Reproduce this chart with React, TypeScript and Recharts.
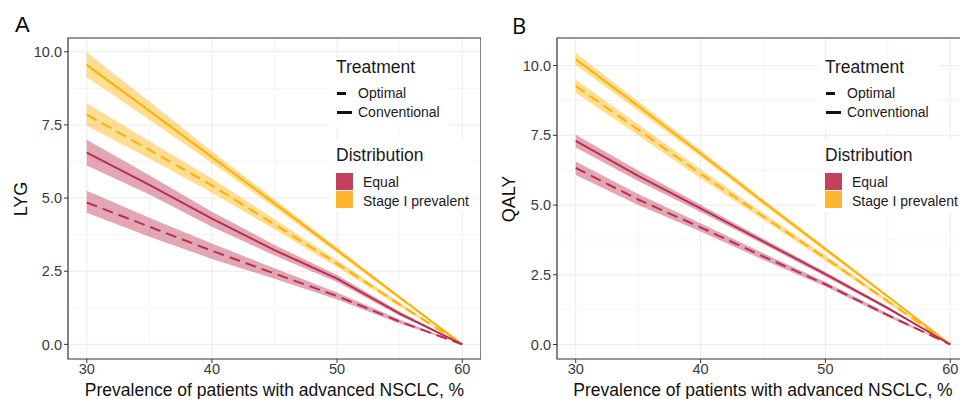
import React from 'react';
import { ComposedChart, Line, Area, XAxis, YAxis, CartesianGrid, ReferenceArea } from 'recharts';

// prevalence of advanced NSCLC, %
const prevalence = [30, 35, 40, 45, 50, 55, 60];
const xTicks = [30, 40, 50, 60];
const yTicks = [0, 2.5, 5, 7.5, 10];

// Panel A: LYG
const lygStageConv = [9.55, 7.98, 6.4, 4.82, 3.22, 1.6, 0];
const lygStageConvLo = [9.13, 7.68, 6.2, 4.68, 3.12, 1.54, 0];
const lygStageConvHi = [9.98, 8.3, 6.6, 4.96, 3.32, 1.66, 0];
const lygStageOpt = [7.85, 6.65, 5.43, 4.1, 2.76, 1.36, 0];
const lygStageOptLo = [7.47, 6.35, 5.18, 3.93, 2.64, 1.29, 0];
const lygStageOptHi = [8.24, 6.95, 5.67, 4.28, 2.88, 1.43, 0];
const lygEqualConv = [6.55, 5.45, 4.3, 3.22, 2.25, 1.05, 0];
const lygEqualConvLo = [6.11, 5.12, 4.02, 3.04, 2.13, 0.98, 0];
const lygEqualConvHi = [6.99, 5.78, 4.53, 3.4, 2.37, 1.12, 0];
const lygEqualOpt = [4.85, 4.02, 3.2, 2.42, 1.65, 0.78, 0];
const lygEqualOptLo = [4.5, 3.68, 2.92, 2.24, 1.53, 0.71, 0];
const lygEqualOptHi = [5.25, 4.33, 3.45, 2.6, 1.77, 0.85, 0];

// Panel B: QALY
const qalyStageConv = [10.23, 8.55, 6.85, 5.12, 3.42, 1.72, 0];
const qalyStageConvLo = [10.02, 8.38, 6.73, 5.02, 3.34, 1.67, 0];
const qalyStageConvHi = [10.45, 8.72, 6.97, 5.22, 3.5, 1.77, 0];
const qalyStageOpt = [9.27, 7.7, 6.12, 4.6, 3.1, 1.55, 0];
const qalyStageOptLo = [9.03, 7.5, 5.95, 4.48, 3.0, 1.49, 0];
const qalyStageOptHi = [9.5, 7.9, 6.29, 4.72, 3.2, 1.61, 0];
const qalyEqualConv = [7.3, 6.05, 4.88, 3.7, 2.52, 1.3, 0];
const qalyEqualConvLo = [7.06, 5.86, 4.75, 3.6, 2.44, 1.25, 0];
const qalyEqualConvHi = [7.52, 6.24, 5.01, 3.8, 2.6, 1.35, 0];
const qalyEqualOpt = [6.33, 5.2, 4.2, 3.16, 2.16, 1.05, 0];
const qalyEqualOptLo = [6.08, 5.0, 4.05, 3.04, 2.08, 0.99, 0];
const qalyEqualOptHi = [6.56, 5.4, 4.35, 3.28, 2.24, 1.11, 0];

const RED = '#B8304F';
const RED_FILL = '#C0395A';
const YELLOW = '#FFB000';
const FONT = '"Liberation Sans", Arial, sans-serif';

type Series = { mid: number[]; lo: number[]; hi: number[] };

const buildRows = (sc: Series, so: Series, ec: Series, eo: Series) =>
  prevalence.map((x, i) => ({
    x,
    sc: sc.mid[i],
    so: so.mid[i],
    ec: ec.mid[i],
    eo: eo.mid[i],
    scBand: [sc.lo[i], sc.hi[i]],
    soBand: [so.lo[i], so.hi[i]],
    ecBand: [ec.lo[i], ec.hi[i]],
    eoBand: [eo.lo[i], eo.hi[i]],
  }));

const dataA = buildRows(
  { mid: lygStageConv, lo: lygStageConvLo, hi: lygStageConvHi },
  { mid: lygStageOpt, lo: lygStageOptLo, hi: lygStageOptHi },
  { mid: lygEqualConv, lo: lygEqualConvLo, hi: lygEqualConvHi },
  { mid: lygEqualOpt, lo: lygEqualOptLo, hi: lygEqualOptHi }
);

const dataB = buildRows(
  { mid: qalyStageConv, lo: qalyStageConvLo, hi: qalyStageConvHi },
  { mid: qalyStageOpt, lo: qalyStageOptLo, hi: qalyStageOptHi },
  { mid: qalyEqualConv, lo: qalyEqualConvLo, hi: qalyEqualConvHi },
  { mid: qalyEqualOpt, lo: qalyEqualOptLo, hi: qalyEqualOptHi }
);

const abs = (s: React.CSSProperties): React.CSSProperties => ({ position: 'absolute', ...s });

const LegendBlock: React.FC<{ dx: number }> = ({ dx }) => {
  const txt = (left: number, cy: number, text: string, size: number) => (
    <div style={abs({ left: left + dx, top: cy - 10, lineHeight: '20px', fontSize: size, color: '#1a1a1a', whiteSpace: 'nowrap' })}>
      {text}
    </div>
  );
  return (
    <>
      <div style={abs({ left: 330 + dx, top: 57, width: 120, height: 70, background: '#fff' })} />
      <div style={abs({ left: 330 + dx, top: 140, width: 145, height: 72, background: '#fff' })} />
      {txt(336, 67, 'Treatment', 17.5)}
      <div style={abs({ left: 337 + dx, top: 92, width: 9, height: 3, background: '#111' })} />
      {txt(358, 93, 'Optimal', 14)}
      <div style={abs({ left: 337 + dx, top: 110.5, width: 15, height: 3, background: '#111' })} />
      {txt(358, 111.5, 'Conventional', 14)}
      {txt(336, 155, 'Distribution', 17.5)}
      <div style={abs({ left: 336 + dx, top: 173, width: 17, height: 17, background: '#C4415E' })} />
      {txt(363, 182, 'Equal', 14)}
      <div style={abs({ left: 336 + dx, top: 191, width: 17, height: 17, background: '#FFB52E' })} />
      {txt(363, 200.5, 'Stage I prevalent', 14)}
    </>
  );
};

interface PanelProps {
  data: ReturnType<typeof buildRows>;
  left: number;
  width: number;
  yMax: number;
  yMin: number;
}

const Panel: React.FC<PanelProps> = ({ data, left, width, yMax, yMin }) => (
  <div style={abs({ left, top: 0 })}>
    <ComposedChart width={width} height={399} data={data} margin={{ top: 38, right: 0, left: 0, bottom: 0 }}>
      <CartesianGrid stroke="#F5F5F5" horizontalValues={[1.25, 3.75, 6.25, 8.75]} verticalValues={[35, 45, 55]} />
      <CartesianGrid stroke="#EBEBEB" horizontalValues={yTicks} verticalValues={xTicks} />
      <XAxis
        dataKey="x"
        type="number"
        domain={[28.5, 61.5]}
        ticks={xTicks}
        allowDataOverflow
        height={40}
        axisLine={false}
        tickSize={4}
        tickMargin={1}
        tickLine={{ stroke: '#333' }}
        tick={{ fill: '#3a3a3a', fontSize: 14.5, fontFamily: FONT }}
      />
      <YAxis
        type="number"
        domain={[yMin, yMax]}
        ticks={yTicks}
        allowDataOverflow
        width={68}
        axisLine={false}
        tickSize={4}
        tickMargin={2}
        tickLine={{ stroke: '#333' }}
        tickFormatter={(v: number) => v.toFixed(1)}
        tick={{ fill: '#3a3a3a', fontSize: 14.5, fontFamily: FONT }}
      />
      <Area type="linear" dataKey="scBand" stroke="none" fill={YELLOW} fillOpacity={0.42} isAnimationActive={false} />
      <Area type="linear" dataKey="soBand" stroke="none" fill={YELLOW} fillOpacity={0.42} isAnimationActive={false} />
      <Area type="linear" dataKey="ecBand" stroke="none" fill={RED_FILL} fillOpacity={0.45} isAnimationActive={false} />
      <Area type="linear" dataKey="eoBand" stroke="none" fill={RED_FILL} fillOpacity={0.45} isAnimationActive={false} />
      <Line type="linear" dataKey="sc" stroke={YELLOW} strokeWidth={2} dot={false} activeDot={false} isAnimationActive={false} />
      <Line type="linear" dataKey="so" stroke={YELLOW} strokeWidth={2} strokeDasharray="11 6" dot={false} activeDot={false} isAnimationActive={false} />
      <Line type="linear" dataKey="ec" stroke={RED} strokeWidth={2} dot={false} activeDot={false} isAnimationActive={false} />
      <Line type="linear" dataKey="eo" stroke={RED} strokeWidth={2} strokeDasharray="11 6" dot={false} activeDot={false} isAnimationActive={false} />
      <ReferenceArea x1={28.5} x2={61.5} y1={yMin} y2={yMax} fill="none" stroke="#333" strokeWidth={1.2} ifOverflow="visible" />
    </ComposedChart>
  </div>
);

const App: React.FC = () => {
  const xTitle = 'Prevalence of patients with advanced NSCLC, %';
  return (
    <div style={abs({ left: 0, top: 0, width: 960, height: 399, overflow: 'hidden', background: '#fff', fontFamily: FONT })}>
      <Panel data={dataA} left={0} width={481} yMin={-0.5} yMax={10.47} />
      <Panel data={dataB} left={489} width={480} yMin={-0.52} yMax={10.99} />
      <LegendBlock dx={0} />
      <LegendBlock dx={489} />
      <div style={abs({ left: 15, top: 12, fontSize: 22, lineHeight: '26px', color: '#000' })}>A</div>
      <div style={abs({ left: 512, top: 12, fontSize: 22, lineHeight: '26px', color: '#000', fontFamily: '"Open Sans", sans-serif' })}>B</div>
      <div style={abs({ left: 68, width: 413, top: 379, textAlign: 'center', fontSize: 17.5, lineHeight: '22px', color: '#111', whiteSpace: 'nowrap' })}>{xTitle}</div>
      <div style={abs({ left: 557, width: 412, top: 379, textAlign: 'center', fontSize: 17.5, lineHeight: '22px', color: '#111', whiteSpace: 'nowrap' })}>{xTitle}</div>
      <div style={abs({ left: 21, top: 198.5, transform: 'translate(-50%, -50%) rotate(-90deg)', fontSize: 18, lineHeight: '22px', color: '#111' })}>LYG</div>
      <div style={abs({ left: 509, top: 198.5, transform: 'translate(-50%, -50%) rotate(-90deg)', fontSize: 18, lineHeight: '22px', color: '#111' })}>QALY</div>
    </div>
  );
};

export default App;
